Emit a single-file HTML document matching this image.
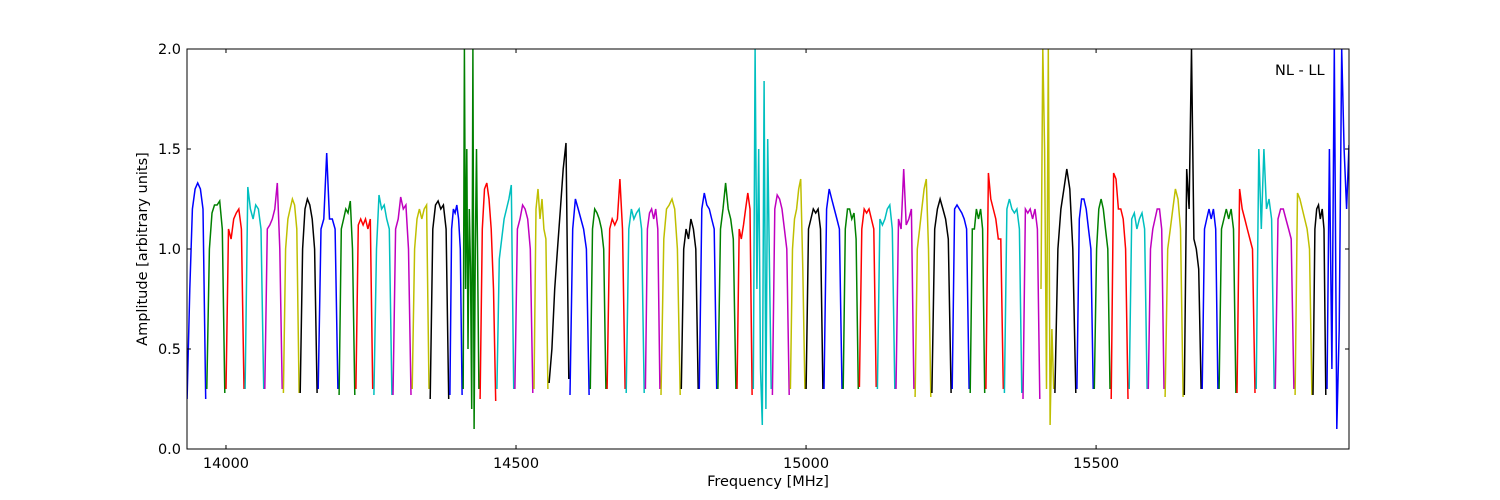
<!DOCTYPE html>
<html><head><meta charset="utf-8"><style>
body{margin:0;background:#fff;}
svg{display:block;font-family:"DejaVu Sans","Liberation Sans",sans-serif;}
</style></head><body>
<svg id="chart" width="1500" height="500">
<defs><clipPath id="clip"><rect x="187" y="49" width="1162" height="400"/></clipPath></defs>
<g id="series" clip-path="url(#clip)"></g>
<rect x="187" y="49" width="1162" height="400" fill="none" stroke="#000" stroke-width="1"/>
<g id="axes"></g>
<text x="1275" y="75" font-size="14.5">NL - LL</text>
<text x="768" y="486" font-size="14.5" text-anchor="middle">Frequency [MHz]</text>
<text transform="translate(147,249) rotate(-90)" font-size="14.5" text-anchor="middle">Amplitude [arbitrary units]</text>
</svg>
<script>
const xTicks=[14000,14500,15000,15500];
const yTicks=[0.0,0.5,1.0,1.5,2.0];
const segStart=[13933,13967,14000,14033,14067,14099,14128,14159,14195,14224,14255,14288,14321,14352,14386,14409,14438,14467,14498,14531,14557,14593,14628,14657,14690,14723,14750,14785,14816,14848,14881,14909,14942,14973,15000,15031,15064,15092,15123,15155,15188,15217,15252,15283,15310,15342,15374,15405,15429,15467,15497,15526,15557,15590,15619,15652,15683,15712,15743,15776,15809,15843,15874,15898];
const lastEnd=15936;
const segAmp=[
[0.25,0.8,1.2,1.3,1.33,1.3,1.2,0.25],
[0.3,1.0,1.18,1.22,1.22,1.24,1.1,0.28],
[0.3,1.1,1.05,1.15,1.18,1.2,1.1,0.3],
[0.3,1.31,1.2,1.15,1.22,1.2,1.1,0.3],
[0.3,1.1,1.12,1.15,1.2,1.33,1.0,0.3],
[0.28,1.0,1.15,1.2,1.25,1.22,1.1,0.28],
[0.28,1.0,1.2,1.25,1.22,1.15,1.0,0.28],
[0.3,1.1,1.15,1.48,1.15,1.15,1.1,0.3],
[0.27,1.1,1.15,1.2,1.18,1.24,1.0,0.27],
[0.3,1.12,1.15,1.12,1.15,1.1,1.15,0.3],
[0.27,1.0,1.27,1.2,1.22,1.15,1.1,0.27],
[0.27,1.1,1.15,1.26,1.2,1.22,1.0,0.27],
[0.3,1.0,1.15,1.2,1.15,1.2,1.22,0.3],
[0.25,1.1,1.22,1.24,1.2,1.22,1.1,0.25],
[0.27,1.1,1.2,1.18,1.22,1.15,1.0,0.27],
[0.3,2.0,0.8,1.5,0.5,1.2,0.9,0.2,2.0,0.1,1.0,1.5,0.9,0.3],
[0.25,1.1,1.3,1.33,1.25,1.1,0.8,0.24],
[0.3,0.95,1.05,1.15,1.2,1.25,1.32,0.3],
[0.3,1.1,1.15,1.22,1.2,1.15,1.0,0.28],
[0.3,1.2,1.3,1.15,1.25,1.1,1.05,0.3],
[0.33,0.5,0.8,1.0,1.2,1.4,1.53,0.35],
[0.27,1.1,1.25,1.2,1.15,1.1,1.0,0.27],
[0.3,1.1,1.2,1.18,1.15,1.1,1.0,0.3],
[0.3,1.1,1.15,1.12,1.15,1.35,1.1,0.3],
[0.28,1.1,1.2,1.15,1.18,1.2,1.1,0.28],
[0.3,1.1,1.18,1.2,1.15,1.2,1.1,0.3],
[0.27,1.05,1.2,1.22,1.25,1.2,1.0,0.27],
[0.3,1.0,1.1,1.05,1.15,1.1,1.0,0.3],
[0.3,1.2,1.28,1.22,1.2,1.15,1.1,0.3],
[0.3,1.1,1.2,1.33,1.2,1.15,1.05,0.3],
[0.3,1.1,1.05,1.12,1.2,1.28,1.2,0.27],
[0.3,2.0,0.8,1.5,0.4,0.12,1.84,0.2,1.55,0.9,0.3],
[0.27,1.2,1.27,1.25,1.2,1.1,1.0,0.27],
[0.3,1.0,1.15,1.2,1.3,1.35,0.9,0.3],
[0.3,1.1,1.15,1.2,1.18,1.2,1.1,0.3],
[0.3,1.2,1.3,1.25,1.2,1.15,1.1,0.3],
[0.3,1.1,1.2,1.2,1.15,1.18,1.05,0.3],
[0.31,1.1,1.2,1.18,1.2,1.15,1.1,0.31],
[0.3,1.15,1.12,1.15,1.2,1.22,1.1,0.3],
[0.3,1.15,1.1,1.4,1.12,1.15,1.2,0.3],
[0.26,1.0,1.1,1.2,1.3,1.35,1.0,0.26],
[0.28,1.1,1.2,1.25,1.2,1.15,1.05,0.28],
[0.3,1.2,1.22,1.2,1.18,1.15,1.1,0.3],
[0.28,1.1,1.1,1.2,1.15,1.2,1.1,0.28],
[0.3,1.38,1.25,1.2,1.15,1.05,1.05,0.3],
[0.28,1.2,1.25,1.2,1.18,1.2,1.1,0.28],
[0.25,1.2,1.18,1.2,1.15,1.2,1.1,0.25],
[0.8,2.0,1.5,0.3,2.0,0.12,0.6,0.3],
[0.28,1.0,1.2,1.3,1.4,1.3,1.0,0.28],
[0.3,1.15,1.25,1.25,1.2,1.1,1.0,0.3],
[0.3,1.0,1.2,1.25,1.2,1.1,1.0,0.3],
[0.25,1.38,1.35,1.2,1.2,1.15,1.0,0.25],
[0.3,1.15,1.18,1.1,1.15,1.18,1.1,0.3],
[0.3,1.0,1.1,1.15,1.2,1.2,1.1,0.3],
[0.26,1.0,1.1,1.2,1.3,1.25,1.1,0.26],
[0.27,1.4,1.2,2.0,1.05,1.0,0.9,0.3],
[0.3,1.1,1.15,1.2,1.15,1.2,1.1,0.3],
[0.3,1.1,1.15,1.2,1.15,1.2,1.1,0.28],
[0.28,1.3,1.2,1.15,1.1,1.05,1.0,0.28],
[0.3,1.5,1.1,1.5,1.2,1.25,1.15,0.3],
[0.3,1.15,1.2,1.2,1.15,1.1,1.05,0.3],
[0.27,1.28,1.25,1.2,1.15,1.1,1.0,0.27],
[0.27,1.1,1.2,1.22,1.15,1.2,1.1,0.27],
[0.3,1.5,0.4,2.0,0.1,0.6,2.0,1.5,1.2,1.52]
];
const colors=["#0000ff","#008000","#ff0000","#00bfbf","#bf00bf","#bfbf00","#000000"];
const NS="http://www.w3.org/2000/svg";
const X0=187,X1=1349,Y0=449,Y1=49,FMIN=13932.8,FMAX=15936;
function xs(f){return X0+(f-FMIN)/(FMAX-FMIN)*(X1-X0);}
function ys(v){return Y0-(v/2)*(Y0-Y1);}
const g=document.getElementById('series');
segStart.forEach((s,i)=>{
  const e=i<segStart.length-1?segStart[i+1]-2:lastEnd;
  const a=segAmp[i];
  const pts=a.map((v,j)=>xs(s+(e-s)*j/(a.length-1)).toFixed(1)+','+ys(v).toFixed(1)).join(' ');
  const pl=document.createElementNS(NS,'polyline');
  pl.setAttribute('points',pts);
  pl.setAttribute('fill','none');
  pl.setAttribute('stroke',colors[i%colors.length]);
  pl.setAttribute('stroke-width','1.5');
  
  
  g.appendChild(pl);
});
const ax=document.getElementById('axes');
function mk(tag,attrs){const el=document.createElementNS(NS,tag);for(const k in attrs)el.setAttribute(k,attrs[k]);ax.appendChild(el);return el;}
xTicks.forEach(t=>{
  const x=xs(t);
  const a=mk('line',{x1:x,x2:x,y1:Y0,y2:Y0-4,stroke:'#000'});
  
  
  const b=mk('line',{x1:x,x2:x,y1:Y1,y2:Y1+4,stroke:'#000'});
  
  
  const tx=mk('text',{x:x,y:Y0+19,'font-size':14.5,'text-anchor':'middle'});
  tx.textContent=t;
  
  
});
yTicks.forEach(t=>{
  const y=ys(t);
  const a=mk('line',{x1:X0,x2:X0+4,y1:y,y2:y,stroke:'#000'});
  
  
  const b=mk('line',{x1:X1,x2:X1-4,y1:y,y2:y,stroke:'#000'});
  
  
  const tx=mk('text',{x:X0-6,y:y+5,'font-size':14.5,'text-anchor':'end'});
  tx.textContent=t.toFixed(1);
  
  
});
</script>
</body></html>
